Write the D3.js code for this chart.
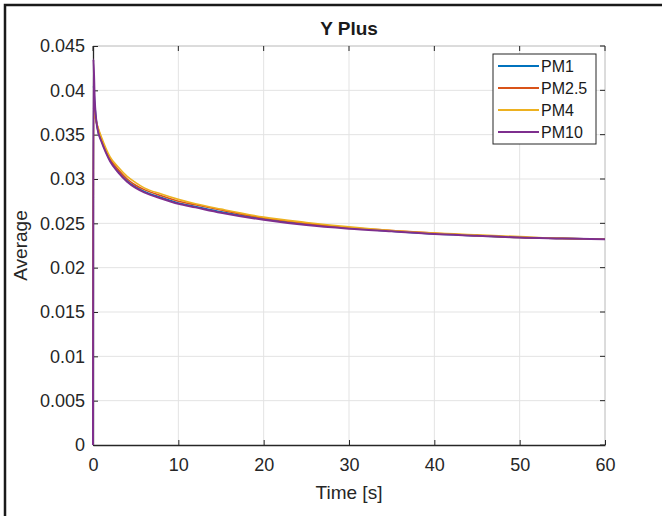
<!DOCTYPE html>
<html>
<head>
<meta charset="utf-8">
<script src="https://cdn.jsdelivr.net/npm/d3@7"></script>
<style>
  body { margin: 0; background: #fff; }
  svg { display: block; font-family: "Liberation Sans", Arial, sans-serif; }
</style>
</head>
<body>
<svg id="chart"></svg>
<script>
// figure size
let width = 662, height = 516;
let margin = {top: 46, right: 57, bottom: 71, left: 93},
    plotWidth = width - margin.left - margin.right,
    plotHeight = height - margin.top - margin.bottom;

// data
let times = [0, 0.05, 0.2, 0.5, 1, 1.5, 2, 3, 4, 5, 6, 8, 10, 12, 15, 20, 25, 30, 35, 40, 45, 50, 55, 60];
let pm1   = [0, 0.0405, 0.0385, 0.0358, 0.0343, 0.0331, 0.0321, 0.0308, 0.0298, 0.0291, 0.0286, 0.0279, 0.0273, 0.0269, 0.0263, 0.0255, 0.0249, 0.0245, 0.0241, 0.0238, 0.0236, 0.0234, 0.0233, 0.0232];
let pm25  = [0, 0.0380, 0.0372, 0.0360, 0.0345, 0.0333, 0.0323, 0.0310, 0.0300, 0.0293, 0.0288, 0.0281, 0.0275, 0.0271, 0.0265, 0.0256, 0.0250, 0.0245, 0.0242, 0.0239, 0.0236, 0.0234, 0.0233, 0.0232];
let pm4   = [0, 0.0378, 0.0372, 0.0361, 0.0347, 0.0335, 0.0325, 0.0313, 0.0303, 0.0296, 0.0290, 0.0283, 0.0277, 0.0272, 0.0266, 0.0257, 0.0251, 0.0246, 0.0242, 0.0239, 0.0237, 0.0235, 0.0233, 0.0232];
let pm10  = [0, 0.0435, 0.0390, 0.0358, 0.0342, 0.0330, 0.0320, 0.0307, 0.0297, 0.0290, 0.0285, 0.0278, 0.0272, 0.0268, 0.0262, 0.0254, 0.0248, 0.0244, 0.0241, 0.0238, 0.0236, 0.0234, 0.0233, 0.0232];

let seriesNames = ["PM1", "PM2.5", "PM4", "PM10"];
let seriesValues = [pm1, pm25, pm4, pm10];
let seriesColors = ["#0072BD", "#D95319", "#EDB120", "#7E2F8E"];

let xTicks = [0, 10, 20, 30, 40, 50, 60];
let yTicks = [0, 0.005, 0.01, 0.015, 0.02, 0.025, 0.03, 0.035, 0.04, 0.045];

let svg = d3.select("#chart")
    .attr("width", width)
    .attr("height", height);

// outer frame (only left and top edges show in the picture)
svg.append("path")
    .attr("d", "M5," + height + "V5H" + width)
    .attr("fill", "none")
    .attr("stroke", "#1a1a1a")
    .attr("stroke-width", 2.5);

let x = d3.scaleLinear().domain([0, 60]).range([margin.left, margin.left + plotWidth]);
let y = d3.scaleLinear().domain([0, 0.045]).range([margin.top + plotHeight, margin.top]);

// grid
svg.append("g")
  .selectAll("line")
  .data(xTicks.slice(1, -1))
  .enter().append("line")
    .attr("x1", d => x(d)).attr("x2", d => x(d))
    .attr("y1", y(0)).attr("y2", y(0.045))
    .attr("stroke", "#e3e3e3");
svg.append("g")
  .selectAll("line")
  .data(yTicks.slice(1, -1))
  .enter().append("line")
    .attr("x1", x(0)).attr("x2", x(60))
    .attr("y1", d => y(d)).attr("y2", d => y(d))
    .attr("stroke", "#e3e3e3");

// axes box: top/right lighter
svg.append("line")
    .attr("x1", x(0)).attr("x2", x(60)).attr("y1", y(0.045)).attr("y2", y(0.045))
    .attr("stroke", "#b8b8b8");
svg.append("line")
    .attr("x1", x(60)).attr("x2", x(60)).attr("y1", y(0)).attr("y2", y(0.045))
    .attr("stroke", "#b8b8b8");

// inward tick marks on the top and right edges
svg.append("g")
  .selectAll("line")
  .data(xTicks)
  .enter().append("line")
    .attr("x1", d => x(d)).attr("x2", d => x(d))
    .attr("y1", y(0.045)).attr("y2", y(0.045) + 5)
    .attr("stroke", "#262626");
svg.append("g")
  .selectAll("line")
  .data(yTicks)
  .enter().append("line")
    .attr("x1", x(60)).attr("x2", x(60) - 5)
    .attr("y1", d => y(d)).attr("y2", d => y(d))
    .attr("stroke", "#262626");

// bottom and left axes with inward ticks
let xAxis = svg.append("g")
    .attr("transform", "translate(0," + y(0) + ")")
    .call(d3.axisBottom(x).tickValues(xTicks).tickSizeInner(-5).tickSizeOuter(0).tickPadding(13));
let yAxis = svg.append("g")
    .attr("transform", "translate(" + x(0) + ",0)")
    .call(d3.axisLeft(y).tickValues(yTicks).tickFormat(d3.format("")).tickSizeInner(-5).tickSizeOuter(0).tickPadding(8));

[xAxis, yAxis].forEach(a => {
  a.select(".domain").attr("stroke", "#262626").attr("stroke-width", 1.3);
  a.selectAll(".tick line").attr("stroke", "#262626");
  a.selectAll("text")
    .attr("fill", "#262626")
    .style("font-size", "18px")
    .style("font-family", "Liberation Sans, Arial, sans-serif");
});

// lines
let line = d3.line()
    .x((d, i) => x(times[i]))
    .y(d => y(d))
    .curve(d3.curveMonotoneX);

seriesValues.forEach((vals, k) => {
  svg.append("path")
    .datum(vals)
    .attr("d", line)
    .attr("fill", "none")
    .attr("stroke", seriesColors[k])
    .attr("stroke-width", k == 3 ? 2 : 1.6);
});

// title and axis labels
svg.append("text")
    .attr("x", x(30)).attr("y", 35)
    .attr("text-anchor", "middle")
    .style("font-size", "19px")
    .style("font-weight", "bold")
    .attr("fill", "#1a1a1a")
    .text("Y Plus");

svg.append("text")
    .attr("x", x(30)).attr("y", 499)
    .attr("text-anchor", "middle")
    .style("font-size", "19px")
    .attr("fill", "#262626")
    .text("Time [s]");

svg.append("text")
    .attr("transform", "translate(27," + y(0.0225) + ") rotate(-90)")
    .attr("text-anchor", "middle")
    .style("font-size", "19px")
    .attr("fill", "#262626")
    .text("Average");

// legend
let legend = svg.append("g").attr("transform", "translate(493,54)");
legend.append("rect")
    .attr("width", 103).attr("height", 90)
    .attr("fill", "#fff")
    .attr("stroke", "#262626");
seriesNames.forEach((name, k) => {
  let ly = 12 + k * 22;
  legend.append("line")
    .attr("x1", 5).attr("x2", 46)
    .attr("y1", ly).attr("y2", ly)
    .attr("stroke", seriesColors[k])
    .attr("stroke-width", 2);
  legend.append("text")
    .attr("x", 48).attr("y", ly + 6)
    .style("font-size", "16px")
    .attr("fill", "#1a1a1a")
    .text(name);
});
</script>
</body>
</html>
